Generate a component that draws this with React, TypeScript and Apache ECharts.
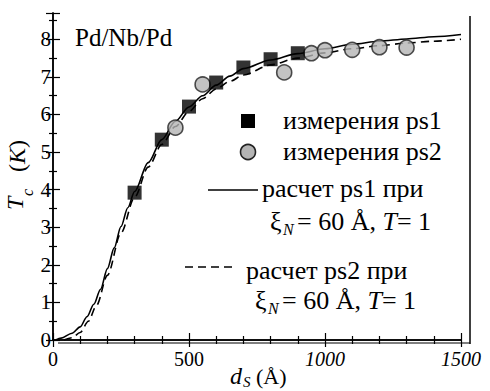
import React, { useEffect, useRef } from "react";
import * as echarts from "echarts";

// measured points
const ps1D = [300, 400, 500, 600, 700, 800, 900];
const ps1T = [3.92, 5.33, 6.21, 6.85, 7.25, 7.47, 7.63];
const ps2D = [450, 550, 850, 950, 1000, 1100, 1200, 1300];
const ps2T = [5.65, 6.8, 7.12, 7.63, 7.71, 7.72, 7.79, 7.78];
// calculated curves
const calc1D = [10, 30, 70, 100, 125, 150, 175, 200, 225, 250, 275, 300, 350, 400, 450, 500, 550, 600, 650, 700, 800, 900, 1000, 1100, 1200, 1300, 1400, 1500];
const calc1T = [0, 0.05, 0.18, 0.35, 0.62, 0.95, 1.35, 1.9, 2.45, 3.02, 3.52, 3.95, 4.72, 5.33, 5.82, 6.2, 6.5, 6.78, 7.02, 7.22, 7.45, 7.62, 7.75, 7.87, 7.95, 8.01, 8.07, 8.13];
const calc2D = [40, 70, 100, 130, 160, 200, 250, 300, 350, 400, 450, 500, 550, 600, 650, 700, 800, 900, 1000, 1100, 1200, 1300, 1400, 1500];
const calc2T = [0, 0.06, 0.2, 0.5, 0.92, 1.72, 2.85, 3.8, 4.6, 5.2, 5.68, 6.08, 6.42, 6.68, 6.88, 7.05, 7.32, 7.5, 7.64, 7.75, 7.83, 7.9, 7.95, 8.0];

const FONT = "Liberation Serif";

const zip = (a: number[], b: number[]) => a.map((v, i) => [v, b[i]]);

const tickStyle = { color: "#000", width: 1.2 };

function buildOption(): any {
  const xBase = {
    type: "value" as const,
    min: 0,
    max: 1500,
    interval: 500,
    axisLine: { show: true, lineStyle: { color: "#000", width: 1.5 } },
    axisTick: { show: true, inside: true, length: 7, lineStyle: tickStyle },
    minorTick: { show: true, splitNumber: 5, length: 4, lineStyle: tickStyle },
    splitLine: { show: false },
    minorSplitLine: { show: false },
  };
  const yBase = {
    type: "value" as const,
    min: 0,
    max: 8.7,
    interval: 1,
    axisLine: { show: true, lineStyle: { color: "#000", width: 1.5 } },
    axisTick: { show: true, inside: true, length: 7, lineStyle: tickStyle },
    minorTick: { show: true, splitNumber: 2, length: 4, lineStyle: tickStyle },
    splitLine: { show: false },
    minorSplitLine: { show: false },
  };
  const txt = (text: string, x: number, y: number, size: number, italic = false) => ({
    type: "text",
    x,
    y,
    style: italic
      ? { text, fontFamily: FONT, fontSize: size, fontStyle: "italic", fill: "#000", textAlign: "left", textVerticalAlign: "middle" }
      : { text, fontFamily: FONT, fontSize: size, fill: "#000", textAlign: "left", textVerticalAlign: "middle" },
  });
  const richFormula = (x: number, y: number) => [
    txt("ξ", x, y, 26),
    txt("N", x + 13, y + 8, 16, true),
    {
      type: "text",
      x: x + 27,
      y,
      style: {
        text: "{n|= 60 Å, }{i|T}{n|= 1}",
        fill: "#000",
        fontFamily: FONT,
        fontSize: 26,
        textAlign: "left",
        textVerticalAlign: "middle",
        rich: {
          n: { fontFamily: FONT, fontSize: 26, fill: "#000" },
          i: { fontFamily: FONT, fontSize: 26, fontStyle: "italic", fill: "#000" },
        },
      },
    },
  ];
  return {
    animation: false,
    grid: { left: 53, right: 29, top: 13, bottom: 51, containLabel: false },
    xAxis: [
      {
        ...xBase,
        position: "bottom",
        axisLabel: {
          show: true,
          margin: 9,
          color: "#000",
          fontFamily: FONT,
          fontSize: 20,
          formatter: (v: number) => (v >= 1000 ? `{i|${v}}` : `${v}`),
          rich: { i: { fontFamily: FONT, fontSize: 20, fontStyle: "italic", color: "#000" } },
        },
      },
      { ...xBase, position: "top", axisLabel: { show: false } },
    ],
    yAxis: [
      {
        ...yBase,
        position: "left",
        axisLabel: {
          show: true,
          margin: 2,
          color: "#000",
          fontFamily: FONT,
          fontSize: 21,
          formatter: (v: number) => (Number.isInteger(v) ? `${v}` : ""),
        },
      },
      { ...yBase, position: "right", axisLabel: { show: false } },
    ],
    series: [
      {
        type: "line",
        data: zip(calc1D, calc1T),
        showSymbol: false,
        smooth: 0.3,
        smoothMonotone: "x",
        lineStyle: { color: "#000", width: 1.6 },
        z: 2,
      },
      {
        type: "line",
        data: zip(calc2D, calc2T),
        showSymbol: false,
        smooth: 0.3,
        smoothMonotone: "x",
        lineStyle: { color: "#000", width: 1.6, type: [8, 5] },
        z: 2,
      },
      {
        type: "scatter",
        data: zip(ps1D, ps1T),
        symbol: "rect",
        symbolSize: 14,
        itemStyle: { color: "#000" },
        z: 4,
      },
      {
        type: "scatter",
        data: zip(ps2D, ps2T),
        symbol: "circle",
        symbolSize: 15,
        itemStyle: { color: "#b4b4b4", borderColor: "#222", borderWidth: 1.6 },
        z: 3,
      },
    ],
    graphic: [
      // scanned double frame (outer right and bottom lines)
      { type: "line", shape: { x1: 470, y1: 16, x2: 470, y2: 344 }, style: { stroke: "#000", lineWidth: 1.5 } },
      { type: "line", shape: { x1: 58, y1: 343, x2: 470, y2: 343 }, style: { stroke: "#000", lineWidth: 1.2 } },
      txt("Pd/Nb/Pd", 75, 37, 25),
      // legend
      { type: "rect", shape: { x: 241, y: 114, width: 14, height: 14 }, style: { fill: "#000" } },
      txt("измерения ps1", 283, 120, 26),
      { type: "circle", shape: { cx: 248, cy: 152, r: 7.5 }, style: { fill: "#b4b4b4", stroke: "#222", lineWidth: 1.6 } },
      txt("измерения ps2", 283, 151, 26),
      { type: "line", shape: { x1: 208, y1: 190, x2: 258, y2: 190 }, style: { stroke: "#000", lineWidth: 1.6 } },
      txt("расчет ps1 при", 262, 188, 26),
      ...richFormula(270, 221),
      { type: "line", shape: { x1: 185, y1: 267, x2: 234, y2: 267 }, style: { stroke: "#000", lineWidth: 1.6, lineDash: [8, 5] } },
      txt("расчет ps2 при", 246, 270, 26),
      ...richFormula(255, 300),
      // y axis title
      {
        type: "group",
        x: 27,
        y: 210,
        rotation: Math.PI / 2,
        children: [
          { type: "text", x: 0, y: 0, style: { text: "T", fontFamily: FONT, fontSize: 24, fontStyle: "italic", fill: "#000", textAlign: "left", textVerticalAlign: "bottom" } },
          { type: "text", x: 14, y: 8, style: { text: "c", fontFamily: FONT, fontSize: 16, fontStyle: "italic", fill: "#000", textAlign: "left", textVerticalAlign: "bottom" } },
          {
            type: "text",
            x: 38,
            y: 2,
            style: {
              text: "{n|(}{i|K}{n|)}",
              fontFamily: FONT,
              fontSize: 24,
              textAlign: "left",
              textVerticalAlign: "bottom",
              fill: "#000",
              rich: {
                n: { fontFamily: FONT, fontSize: 24, fill: "#000" },
                i: { fontFamily: FONT, fontSize: 24, fontStyle: "italic", fill: "#000" },
              },
            },
          },
        ],
      },
      // x axis title
      txt("d", 230, 376, 24, true),
      txt("S", 243, 382, 15, true),
      txt("(Å)", 256, 376, 22),
    ],
  };
}

export default function App() {
  const ref = useRef<HTMLDivElement>(null);
  useEffect(() => {
    if (!ref.current) return;
    const chart = echarts.init(ref.current, undefined, { renderer: "svg" });
    chart.setOption(buildOption());
    return () => chart.dispose();
  }, []);
  return (
    <div style={{ position: "absolute", left: 0, top: 0, width: 490, height: 391, background: "#fff" }}>
      {/* font warm-up text, hidden behind the chart */}
      <span
        aria-hidden="true"
        style={{
          position: "absolute",
          left: 75,
          top: 24,
          fontFamily: FONT,
          fontSize: 25,
          color: "#fff",
          opacity: 0,
          zIndex: 0,
          pointerEvents: "none",
        }}
      >
        Pd/Nb/Pd
      </span>
      <div
        ref={ref}
        style={{ width: 490, height: 391, position: "absolute", left: 0, top: 0, zIndex: 1 }}
      />
    </div>
  );
}
